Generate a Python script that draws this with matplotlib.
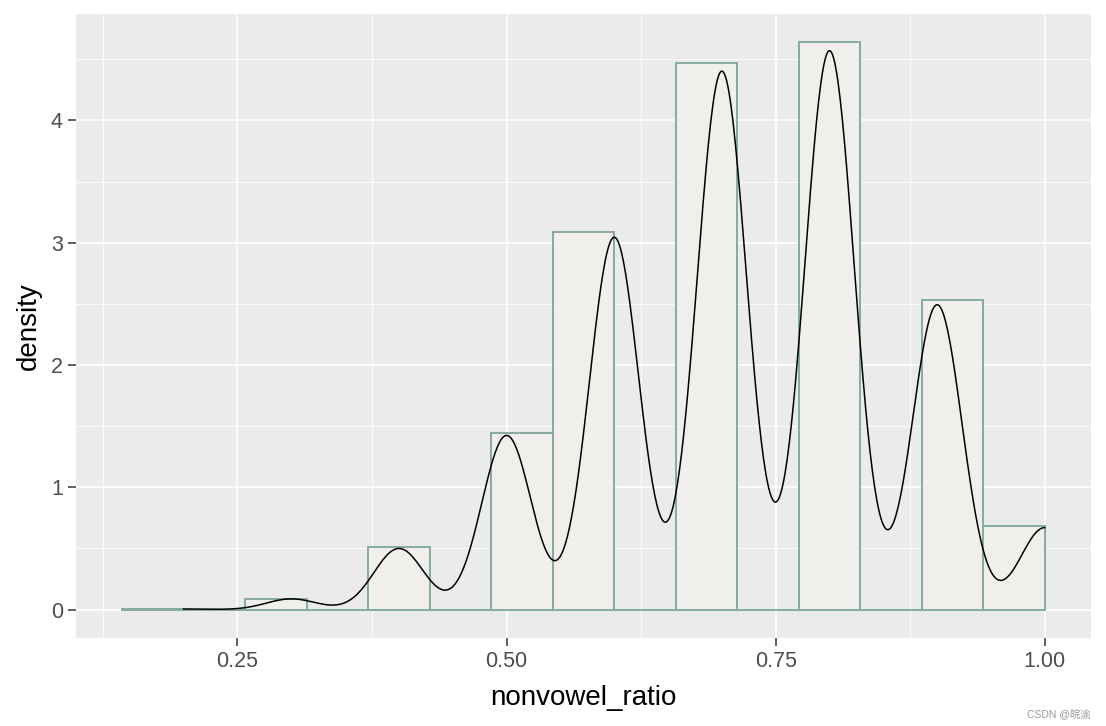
import numpy as np
import matplotlib
matplotlib.use("Agg")
import matplotlib.pyplot as plt
from matplotlib.ticker import MultipleLocator
import seaborn as sns

# histogram: 15 bins, width 0.4/7, starting at 1/7
bin_start = 1 / 7
bin_width = 0.4 / 7
hist_density = [0.005, 0.0, 0.09, 0.0, 0.51, 0.0, 1.445, 3.09,
                0.0, 4.47, 0.0, 4.64, 0.0, 2.53, 0.68]

# discrete ratio values and their share of observations (for the density curve)
ratio_values = [0.2, 0.3, 0.4, 0.5, 0.6, 0.7, 0.8, 0.9, 1.0]
ratio_weights = [0.0003, 0.0051, 0.029, 0.0826, 0.1766, 0.2554, 0.2651, 0.1446, 0.0389]
kde_bandwidth = 0.0232

x_ticks = [0.25, 0.50, 0.75, 1.00]
x_ticklabels = ["0.25", "0.50", "0.75", "1.00"]
y_ticks = [0, 1, 2, 3, 4]

plt.rcParams['font.family'] = ['Liberation Sans', 'DejaVu Sans']

fig = plt.figure(figsize=(11.06, 7.26), dpi=100)
ax = fig.add_axes([76 / 1106, 88 / 726, 1015 / 1106, 624 / 726])
ax.set_facecolor('#EBEBEB')

lefts = [bin_start + i * bin_width for i in range(len(hist_density))]
ax.bar(lefts, hist_density, width=bin_width, align='edge',
       facecolor='#F0EFEB', edgecolor='#86AAA2', linewidth=1.4, zorder=2)

# weighted std (same unbiased form the kde uses) -> bandwidth factor
w = np.array(ratio_weights) / np.sum(ratio_weights)
v = np.array(ratio_values)
var = np.sum(w * (v - np.sum(w * v)) ** 2) / (1 - np.sum(w ** 2))
sns.kdeplot(x=ratio_values, weights=ratio_weights,
            bw_method=kde_bandwidth / np.sqrt(var),
            cut=0, gridsize=800, color='black', linewidth=1.1, ax=ax, zorder=3)

ax.set_xlim(0.1, 1.0429)
ax.set_ylim(-0.232, 4.87)

ax.set_xticks(x_ticks)
ax.set_xticklabels(x_ticklabels)
ax.xaxis.set_minor_locator(MultipleLocator(0.125))
ax.set_yticks(y_ticks)
ax.yaxis.set_minor_locator(MultipleLocator(0.5))

ax.grid(which='major', color='white', linewidth=1.2)
ax.grid(which='minor', color='white', linewidth=0.6)
ax.set_axisbelow(True)
for s in ax.spines.values():
    s.set_visible(False)

ax.tick_params(which='major', length=5.5, width=1.1, color='#333333',
               labelsize=15.5, labelcolor='#4D4D4D', pad=4)
ax.tick_params(which='minor', length=0)

ax.set_xlabel('nonvowel_ratio', fontsize=20, color='black', labelpad=9)
ax.set_ylabel('density', fontsize=20, color='black', labelpad=6)

fig.text(1091 / 1106, 12 / 726, 'CSDN @皖渝', ha='right', va='center',
         fontsize=7.5, color='#9A9A9A',
         family=['Liberation Sans', 'Noto Sans CJK SC'])

fig.savefig('out.png', dpi=100)
